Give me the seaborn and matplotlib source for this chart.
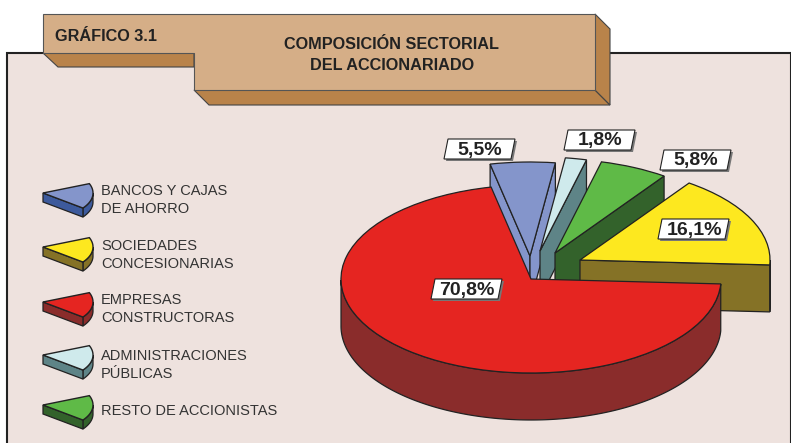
import numpy as np
import matplotlib
matplotlib.use("Agg")
import matplotlib.pyplot as plt
from matplotlib.patches import Polygon
from matplotlib.transforms import Affine2D
import seaborn as sns

# data
categories = ["BANCOS Y CAJAS\nDE AHORRO", "SOCIEDADES\nCONCESIONARIAS", "EMPRESAS\nCONSTRUCTORAS",
              "ADMINISTRACIONES\nPÚBLICAS", "RESTO DE ACCIONISTAS"]
shares = [5.5, 16.1, 70.8, 1.8, 5.8]
chart_label = "GRÁFICO 3.1"
title = "COMPOSICIÓN SECTORIAL\nDEL ACCIONARIADO"

# styles
top_colors = ["#8495cb", "#fde81f", "#e52521", "#cfeaec", "#5fba47"]
side_colors = ["#3d5a9c", "#857226", "#8a2c2b", "#5e8487", "#33622b"]
pie_side_colors = ["#8495cb", "#857226", "#8a2c2b", "#5e8487", "#33622b"]
BG = "#eee2de"
TAN = "#d5ae87"
TAN_DARK = "#b9834a"
INK = "#222222"

# slices clockwise starting at the red one, and where each apex sits in the figure
pie_order = [2, 0, 3, 4, 1]
apex = {2: (531, 279), 0: (530, 256), 3: (540, 251), 4: (555, 253), 1: (580, 260)}
draw_order = [0, 3, 4, 1, 2]
RX, RY, DEPTH = 190, 94, 47

label_pos = {0: (479, 149), 3: (599, 140), 4: (695, 160), 1: (693, 229), 2: (466, 289)}
legend_y = [193, 247, 302, 355, 405]
legend_text_y = [200, 255, 309, 365, 411]

sns.set_style("white")
plt.rcParams["font.family"] = ["Liberation Sans", "DejaVu Sans"]

fig = plt.figure(figsize=(7.91, 4.43), dpi=100, facecolor="white")
ax = fig.add_axes([0, 0, 1, 1])


def extrude(pts, h):
    pts = np.asarray(pts)
    return np.vstack([pts, (pts + [0, h])[::-1]])


def draw_walls(center, rx, ry, h, t1, t2, color, z):
    cx, cy = center
    th = np.radians(np.linspace(t1, t2, 300))
    arc = np.column_stack([cx + rx * np.cos(th), cy - ry * np.sin(th)])
    low = np.sin(th) <= 0
    if low.any():
        ax.add_patch(Polygon(extrude(arc[low], h), fc=color, ec=INK, lw=0.9, zorder=z))
    # flat cut faces, only the ones turned to the viewer
    if np.cos(th[-1]) < 0:
        ax.add_patch(Polygon(extrude([center, arc[-1]], h), fc=color, ec=INK, lw=0.9, zorder=z))
    if np.cos(th[0]) > 0:
        ax.add_patch(Polygon(extrude([center, arc[0]], h), fc=color, ec=INK, lw=0.9, zorder=z))


# pie gives the wedge angles from the shares, then each one is squashed into perspective
ordered = [shares[i] for i in pie_order]
wedges, _ = ax.pie(ordered, startangle=-3, counterclock=False, radius=1,
                   colors=sns.color_palette([top_colors[i] for i in pie_order]),
                   wedgeprops={"edgecolor": INK, "linewidth": 0.9})
ax.set_aspect("auto")
ax.set_xlim(0, 791)
ax.set_ylim(443, 0)
ax.axis("off")

for wedge, i in zip(wedges, pie_order):
    cx, cy = apex[i]
    z = 10 + 2 * draw_order.index(i)
    draw_walls(apex[i], RX, RY, DEPTH, wedge.theta1, wedge.theta2, pie_side_colors[i], z)
    wedge.set_transform(Affine2D().scale(RX, -RY).translate(cx, cy) + ax.transData)
    wedge.set_zorder(z + 1)

# panel
ax.add_patch(Polygon([(7, 443), (7, 53), (791, 53), (791, 443)], closed=False, fc=BG, ec=INK, lw=1.5, zorder=1))

# title tab
ax.add_patch(Polygon([(43, 53), (58, 67), (194, 67), (194, 53)], fc=TAN_DARK, ec="#444444", lw=0.8, zorder=3))
ax.add_patch(Polygon([(194, 90), (209, 105), (610, 105), (595, 90)], fc=TAN_DARK, ec="#444444", lw=0.8, zorder=3))
ax.add_patch(Polygon([(595, 14), (610, 29), (610, 105), (595, 90)], fc=TAN_DARK, ec="#444444", lw=0.8, zorder=3))
ax.add_patch(Polygon([(43, 14), (595, 14), (595, 90), (194, 90), (194, 53), (43, 53)],
                     fc=TAN, ec="#555555", lw=0.8, zorder=4))
ax.text(106, 36, chart_label, ha="center", va="center", weight="bold",
        fontsize=11.7, color=INK, zorder=5)
ax.text(392, 55, title, ha="center", va="center", weight="bold",
        fontsize=11.7, color=INK, linespacing=1.45, zorder=5)

# percentage tags
for i, (x, y) in label_pos.items():
    box = np.array([(-35, 10), (-31, -10), (36, -10), (32, 10)]) + [x, y]
    ax.add_patch(Polygon(box + [2, 2], fc="#777777", ec="none", zorder=30))
    ax.add_patch(Polygon(box, fc="white", ec=INK, lw=0.8, zorder=31))
    ax.text(x + 1, y + 1, f"{shares[i]:.1f}".replace(".", ",") + "%", ha="center", va="center",
            weight="bold", fontsize=14, color=INK, zorder=32)

# legend
for i, name in enumerate(categories):
    center = (43, legend_y[i])
    draw_walls(center, 50, 25, 9, -37, 22, side_colors[i], 20)
    th = np.radians(np.linspace(-37, 22, 60))
    top = np.column_stack([43 + 50 * np.cos(th), legend_y[i] - 25 * np.sin(th)])
    ax.add_patch(Polygon(np.vstack([center, top]), fc=top_colors[i], ec=INK, lw=1.0, zorder=21))
    ax.text(101, legend_text_y[i], name, ha="left", va="center", fontsize=10.5,
            color="#333333", linespacing=1.33, zorder=22)

fig.savefig("out.png", dpi=100, facecolor="white")
